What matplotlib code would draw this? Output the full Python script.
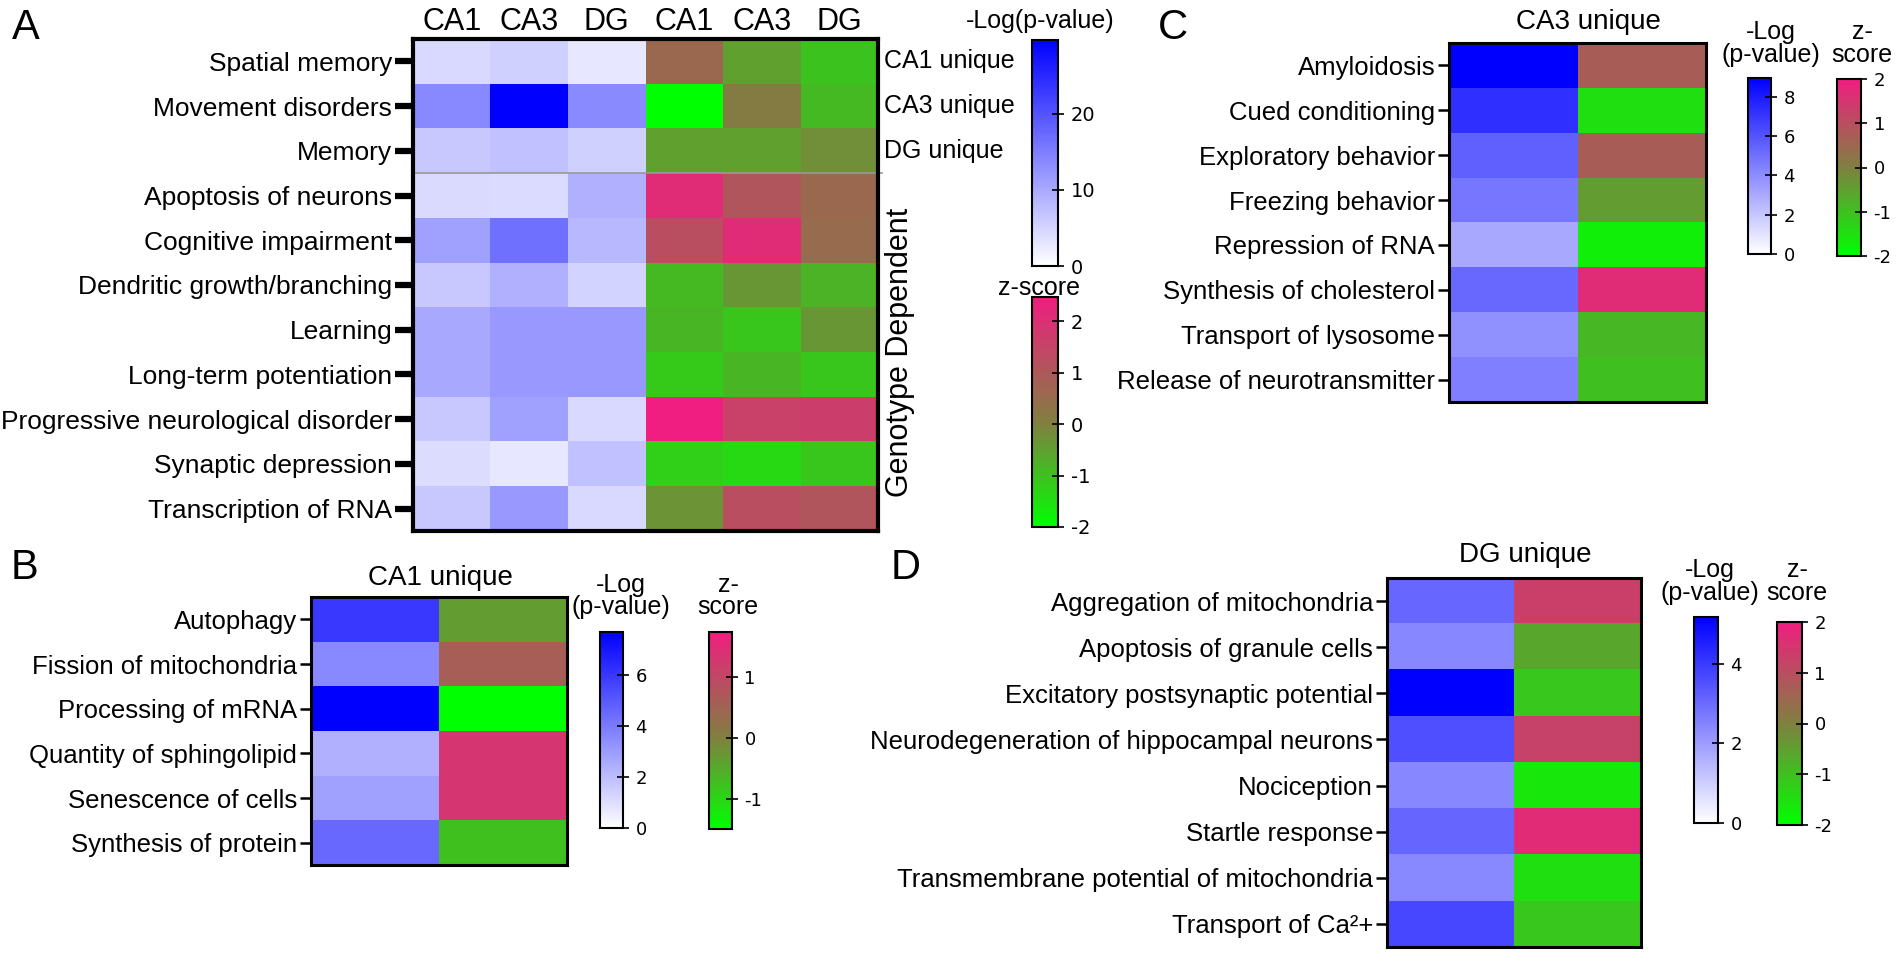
import numpy as np
import matplotlib
matplotlib.use('Agg')
import matplotlib.pyplot as plt
from matplotlib.colors import LinearSegmentedColormap, Normalize
from matplotlib.cm import ScalarMappable

plt.rcParams['font.family'] = ['Liberation Sans', 'DejaVu Sans']
plt.rcParams['axes.unicode_minus'] = False

# ---------------- data ----------------
regions = ['CA1', 'CA3', 'DG']

a_terms = ['Spatial memory', 'Movement disorders', 'Memory', 'Apoptosis of neurons',
           'Cognitive impairment', 'Dendritic growth/branching', 'Learning',
           'Long-term potentiation', 'Progressive neurological disorder',
           'Synaptic depression', 'Transcription of RNA']
a_groups = ['CA1 unique', 'CA3 unique', 'DG unique']
a_logp = [[4.5, 5.5, 2.9],
          [13.9, 29.7, 13.6],
          [6.4, 7.3, 5.5],
          [4.4, 4.2, 9.2],
          [11.1, 16.7, 8.3],
          [6.4, 9.2, 5.0],
          [10.1, 12.0, 12.0],
          [10.1, 12.0, 12.0],
          [6.4, 11.1, 4.5],
          [4.1, 2.9, 7.3],
          [6.4, 12.0, 4.5]]
a_z = [[0.6, -0.5, -1.05],
       [-2.0, 0.1, -0.9],
       [-0.5, -0.5, -0.25],
       [2.12, 1.06, 0.6],
       [1.24, 2.12, 0.53],
       [-0.9, -0.35, -0.8],
       [-0.85, -1.1, -0.35],
       [-1.15, -0.85, -1.1],
       [2.47, 1.6, 1.65],
       [-1.25, -1.4, -1.1],
       [-0.3, 1.24, 1.06]]

b_terms = ['Autophagy', 'Fission of mitochondria', 'Processing of mRNA',
           'Quantity of sphingolipid', 'Senescence of cells', 'Synthesis of protein']
b_logp = [5.98, 3.58, 7.67, 2.38, 2.86, 4.54]
b_z = [-0.33, 0.6, -1.49, 1.32, 1.32, -0.75]

c_terms = ['Amyloidosis', 'Cued conditioning', 'Exploratory behavior', 'Freezing behavior',
           'Repression of RNA', 'Synthesis of cholesterol', 'Transport of lysosome',
           'Release of neurotransmitter']
c_logp = [8.96, 7.3, 5.6, 4.8, 3.07, 5.3, 3.9, 4.5]
c_z = [0.7, -1.5, 0.7, -0.44, -1.75, 1.71, -0.875, -1.0]

d_terms = ['Aggregation of mitochondria', 'Apoptosis of granule cells',
           'Excitatory postsynaptic potential', 'Neurodegeneration of hippocampal neurons',
           'Nociception', 'Startle response', 'Transmembrane potential of mitochondria',
           'Transport of Ca\u00b2+']
d_logp = [3.08, 2.43, 5.18, 3.57, 2.43, 3.1, 2.4, 3.73]
d_z = [1.3, -0.6, -1.12, 1.25, -1.62, 1.72, -1.5, -1.12]

# ---------------- figure ----------------
W, H = 1902, 957
fig = plt.figure(figsize=(W / 100, H / 100), dpi=100)

blue = LinearSegmentedColormap.from_list('wb', ['#FFFFFF', '#0000FF'])


def zmap(lo, hi):
    mid = (0 - lo) / (hi - lo)
    return LinearSegmentedColormap.from_list(
        'gp', [(0, '#00FF00'), (mid, '#808040'), (1, '#F01E80')])


def box(x0, y0, x1, y1):
    # pixel box (top-left origin) -> axes
    return fig.add_axes([x0 / W, 1 - y1 / H, (x1 - x0) / W, (y1 - y0) / H])


def txt(x, y, s, fs, **kw):
    fig.text(x / W, 1 - y / H, s, fontsize=fs, ha=kw.pop('ha', 'center'),
             va=kw.pop('va', 'center'), **kw)


def heatmap(pix, logp, z, pmax, zlim, terms, fs, tlen, tw, sw):
    ax = box(*pix)
    logp = np.asarray(logp, float)
    z = np.asarray(z, float)
    if logp.ndim == 1:
        logp = logp[:, None]
        z = z[:, None]
    n, k = logp.shape
    ax.imshow(logp, cmap=blue, vmin=0, vmax=pmax, aspect='auto',
              interpolation='nearest', extent=(-0.5, k - 0.5, n - 0.5, -0.5))
    ax.imshow(z, cmap=zmap(*zlim), vmin=zlim[0], vmax=zlim[1], aspect='auto',
              interpolation='nearest', extent=(k - 0.5, 2 * k - 0.5, n - 0.5, -0.5))
    ax.set_xlim(-0.5, 2 * k - 0.5)
    ax.set_ylim(n - 0.5, -0.5)
    ax.set_xticks([])
    ax.set_yticks(range(n))
    ax.set_yticklabels(terms, fontsize=fs)
    ax.tick_params(axis='y', length=tlen, width=tw, pad=2)
    for s in ax.spines.values():
        s.set_linewidth(sw)
    return ax


def cbar(pix, cmap, lo, hi, ticks, fs):
    cax = box(*pix)
    cb = fig.colorbar(ScalarMappable(Normalize(lo, hi), cmap), cax=cax, ticks=ticks)
    cb.outline.set_linewidth(1.5)
    cax.tick_params(direction='inout', length=8, width=1.2, labelsize=fs, pad=5)
    for t in cax.get_yticklabels():
        t.set_fontfamily('DejaVu Sans')
    return cb


# ---- panel A ----
axA = heatmap((413, 39, 878, 531), np.array(a_logp), np.array(a_z), 29.7, (-2, 2.47),
              a_terms, 19, 13, 4.5, 3)
for j, r in enumerate(regions + regions):
    axA.text(j, -0.55, r, fontsize=22, ha='center', va='bottom')
axA.plot([-0.5, 5.55], [2.5, 2.5], color='#999999', lw=1.2, clip_on=False)
for i, g in enumerate(a_groups):
    axA.text(5.58, i, g, fontsize=18, ha='left', va='center')
txt(900, 352, 'Genotype Dependent', 22, rotation=90)
cbar((1032, 40, 1058, 266), blue, 0, 29.7, [0, 10, 20], 14)
cbar((1032, 297, 1058, 527), zmap(-2, 2.47), -2, 2.47, [-2, -1, 0, 1, 2], 14)
txt(1040, 21, '-Log(p-value)', 18)
txt(1039, 288, 'z-score', 18)
txt(26, 28, 'A', 30)

# ---- panel B ----
heatmap((311, 597, 567, 865), b_logp, b_z, 7.67, (-1.49, 1.74), b_terms, 18.5, 8, 1.8, 2.2)
txt(440, 578, 'CA1 unique', 20)
cbar((600, 632, 623, 828), blue, 0, 7.67, [0, 2, 4, 6], 13)
cbar((709, 632, 732, 829), zmap(-1.49, 1.74), -1.49, 1.74, [-1, 0, 1], 13)
txt(621, 585, '-Log', 18)
txt(621, 607, '(p-value)', 18)
txt(728, 585, 'z-', 18)
txt(728, 607, 'score', 18)
txt(24, 568, 'B', 30)

# ---- panel C ----
heatmap((1449, 43, 1706, 402), c_logp, c_z, 8.96, (-2, 2), c_terms, 18.5, 8, 1.8, 2.2)
txt(1588, 22, 'CA3 unique', 20)
cbar((1748, 78, 1771, 254), blue, 0, 8.96, [0, 2, 4, 6, 8], 13)
cbar((1837, 79, 1861, 256), zmap(-2, 2), -2, 2, [-2, -1, 0, 1, 2], 13)
txt(1771, 32, '-Log', 18)
txt(1771, 55, '(p-value)', 18)
txt(1862, 32, 'z-', 18)
txt(1862, 55, 'score', 18)
txt(1173, 28, 'C', 30)

# ---- panel D ----
heatmap((1387, 578, 1641, 947), d_logp, d_z, 5.18, (-2, 2), d_terms, 18.5, 8, 1.8, 2.2)
txt(1525, 555, 'DG unique', 20)
cbar((1694, 617, 1718, 823), blue, 0, 5.18, [0, 2, 4], 13)
cbar((1777, 622, 1802, 825), zmap(-2, 2), -2, 2, [-2, -1, 0, 1, 2], 13)
txt(1710, 570, '-Log', 18)
txt(1710, 593, '(p-value)', 18)
txt(1797, 570, 'z-', 18)
txt(1797, 593, 'score', 18)
txt(906, 568, 'D', 30)

fig.savefig('out.png', dpi=100)
